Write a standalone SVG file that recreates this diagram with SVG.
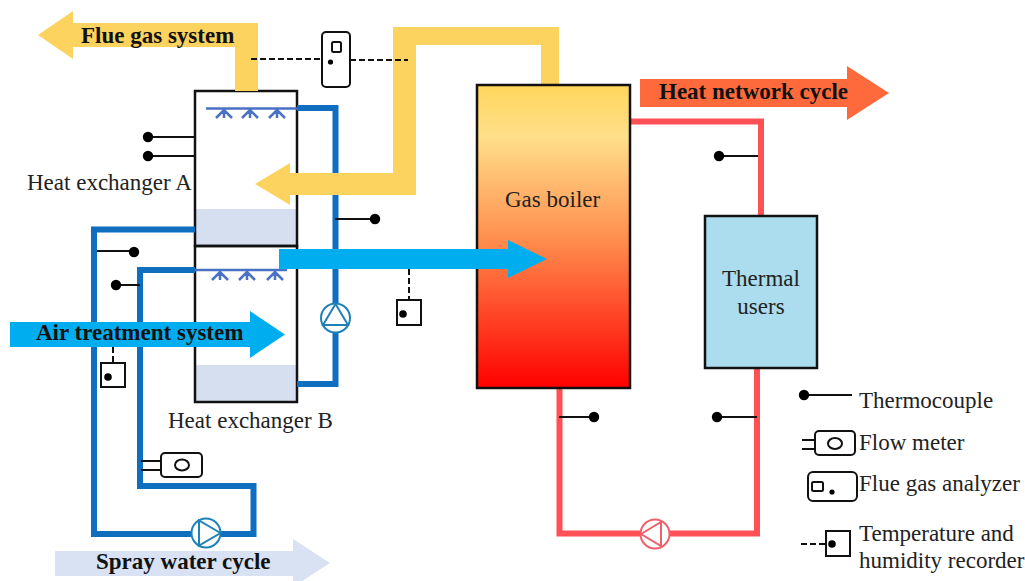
<svg xmlns="http://www.w3.org/2000/svg" width="1025" height="581" viewBox="0 0 1025 581">
<style>
text{font-family:"Liberation Serif","Times New Roman",serif;fill:#222}
.lbl{font-size:23px}
.b{font-size:23px;font-weight:bold;fill:#111}
.box{stroke:#111;stroke-width:2.5;fill:none}
.pipe{fill:none;stroke:#0F6FBE;stroke-width:6}
.hot{fill:none;stroke:#FF5055;stroke-width:6}
.tc{stroke:#111;stroke-width:2;fill:none}
.dash{stroke:#111;stroke-width:2;stroke-dasharray:6 3;fill:none}
.inst{fill:#fff;stroke:#111;stroke-width:2}
.spray{stroke:#4A72C4;stroke-width:2.500;fill:none}
.yel{fill:#FDD35F}
.air{fill:#00AEEF}
.water{fill:#D6DFF0}
</style>
<defs>
<linearGradient id="boilerFill" x1="0" y1="0" x2="0" y2="1">
<stop offset="0" stop-color="#FFD65B"/><stop offset="0.17" stop-color="#FFDF8A"/><stop offset="0.5" stop-color="#FF9050"/><stop offset="1" stop-color="#FF0000"/>
</linearGradient>
<circle id="dot" r="5.200" fill="#000"/>
</defs>
<rect width="1025" height="581" fill="#fff"/>
<g id="heat-exchanger-a">
<rect class="water" x="196" y="209" width="100" height="37"/>
<rect class="box" x="195" y="91" width="102" height="155"/>
<path class="spray" d="M206 108.500H297M224 110V118M216 118L224 110L232 118M250 110V118M242 118L250 110L258 118M277 110V118M269 118L277 110L285 118"/>
<text class="lbl" x="27" y="190">Heat exchanger A</text>
</g>
<g id="heat-exchanger-b">
<rect class="water" x="196" y="365" width="100" height="37"/>
<rect class="box" x="195" y="246" width="102" height="156"/>
<path class="spray" d="M195 270H287M220 272V280M212 280L220 272L228 280M247 272V280M239 280L247 272L255 280M275 272V280M267 280L275 272L283 280"/>
<text class="lbl" x="168" y="428">Heat exchanger B</text>
</g>
<g id="connectors">
<path class="pipe" d="M297 108H335.500V384H297"/>
<path class="pipe" d="M195 229.500H94V534H253.500V486H140V270H195"/>
<path class="hot" d="M630 121.500H761V216"/>
<path class="hot" d="M559.500 388V533.500H757V368"/>
<path class="yel" d="M38 35L73 11V23H258V91H235V47H73V59Z"/>
<path class="yel" d="M541 84V45H416V195H290V205L255 184L290 163V173H393V27H559V84Z"/>
</g>
<g id="pump-a"><circle cx="335.500" cy="318" r="14.500" fill="#fff" stroke="#1E81B8" stroke-width="2"/><path d="M335.500 304L323 325H348Z" fill="none" stroke="#1E81B8" stroke-width="2"/></g>
<g id="pump-b"><circle cx="206" cy="533" r="14.500" fill="#fff" stroke="#1E81B8" stroke-width="2"/><path d="M220.500 533L199 520.500V545.500Z" fill="none" stroke="#1E81B8" stroke-width="2"/></g>
<g id="pump-c"><circle cx="655" cy="534" r="14.500" fill="#fff" stroke="#F0606A" stroke-width="2"/><path d="M641 534L661 522V546Z" fill="none" stroke="#F0606A" stroke-width="2"/></g>
<g id="thermocouples">
<path class="tc" d="M148 137H195M148 156H195M335 219H375M97 251H134M116 285H140M559 417H594M757 417H717M758 156H719"/>
<use href="#dot" x="148" y="137"/><use href="#dot" x="148" y="156"/><use href="#dot" x="375" y="219"/><use href="#dot" x="134" y="252"/><use href="#dot" x="116" y="285"/><use href="#dot" x="594" y="417"/><use href="#dot" x="717" y="417"/><use href="#dot" x="719" y="156"/>
</g>
<g id="flue-gas-analyzer">
<path class="dash" d="M251 59H322M350 60H408"/>
<rect class="inst" x="322" y="32" width="28" height="55" rx="4"/>
<rect class="inst" x="332" y="42" width="9" height="10" rx="1.500"/>
<circle cx="330.500" cy="62" r="2.600" fill="#000"/>
</g>
<g id="flow-meter">
<path class="tc" d="M141 461H161M141 470H161"/>
<rect class="inst" x="161" y="453" width="41" height="24" rx="4"/>
<ellipse class="inst" cx="182" cy="465" rx="7" ry="5.500"/>
</g>
<g id="recorder-a">
<path class="dash" d="M113 347V363"/>
<rect class="inst" x="101" y="363" width="24" height="24"/>
<circle cx="108" cy="377" r="3.800" fill="#000"/>
</g>
<g id="gas-boiler">
<rect x="477" y="85" width="153" height="303" fill="url(#boilerFill)" stroke="#111" stroke-width="2.500"/>
<text class="lbl" x="505" y="207">Gas boiler</text>
</g>
<g id="air-arrows">
<path class="air" d="M10 322H250V311L285 334.500L250 358V347H10Z"/>
<path class="air" d="M279 249H508V240L547 259L508 278V269H279Z"/>
</g>
<g id="recorder-b">
<path class="dash" d="M409 269V300"/>
<rect class="inst" x="397" y="300" width="24" height="25"/>
<circle cx="403" cy="314" r="3.800" fill="#000"/>
</g>
<text class="b" x="81" y="43">Flue gas system</text>
<text class="b" x="36" y="340">Air treatment system</text>
<g id="thermal-users">
<rect x="705" y="216" width="112" height="152" fill="#ABDDEE" stroke="#111" stroke-width="2.500"/>
<text class="lbl" x="761" y="286" text-anchor="middle">Thermal</text>
<text class="lbl" x="761" y="314" text-anchor="middle">users</text>
</g>
<g id="heat-network-cycle">
<path d="M640 79H847V66L889 93L847 120V107H640Z" fill="#FF6A3C"/>
<text class="b" x="659" y="99">Heat network cycle</text>
</g>
<g id="spray-water-cycle">
<path d="M55 551H293V539L330 563L293 587V576H55Z" fill="#D9E2F3"/>
<text class="b" x="96" y="569">Spray water cycle</text>
</g>
<g id="legend">
<path class="tc" d="M804 395H852"/><use href="#dot" x="804" y="395"/>
<text class="lbl" x="859" y="408">Thermocouple</text>
<path class="tc" d="M802 440H815M802 449H815"/>
<rect class="inst" x="815" y="431" width="40" height="24" rx="4"/>
<ellipse class="inst" cx="835" cy="443.500" rx="7" ry="5.500"/>
<text class="lbl" x="859" y="450">Flow meter</text>
<rect class="inst" x="808" y="472" width="49" height="29" rx="5"/>
<rect class="inst" x="812" y="482" width="11" height="9" rx="1.500"/>
<circle cx="832" cy="492" r="2.600" fill="#000"/>
<text class="lbl" x="859" y="491">Flue gas analyzer</text>
<path class="dash" d="M801 544H826"/>
<rect class="inst" x="826" y="531" width="24" height="25"/>
<circle cx="832" cy="544" r="3.800" fill="#000"/>
<text class="lbl" x="859" y="541">Temperature and</text>
<text class="lbl" x="859" y="568">humidity recorder</text>
</g>
</svg>
